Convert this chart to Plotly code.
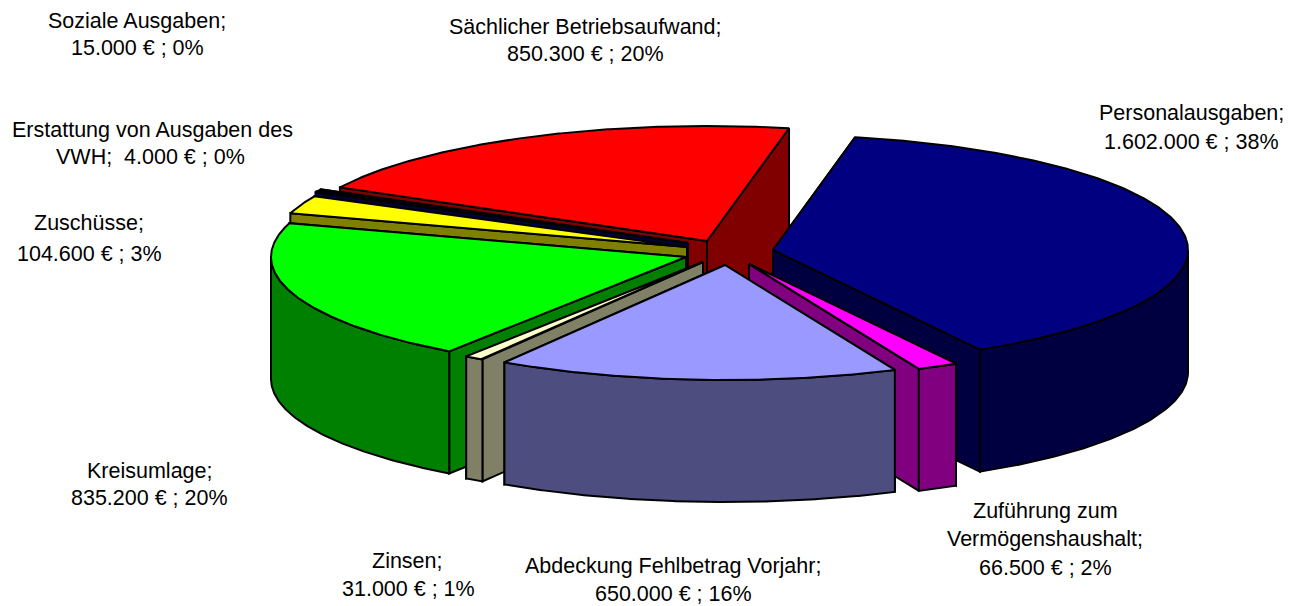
import numpy as np
import plotly.graph_objects as go

# ---- data ----
categories = ["Personalausgaben", "Zuführung zum Vermögenshaushalt", "Abdeckung Fehlbetrag Vorjahr",
              "Zinsen", "Kreisumlage", "Zuschüsse", "Erstattung von Ausgaben des VWH",
              "Soziale Ausgaben", "Sächlicher Betriebsaufwand"]
values = [1602000, 66500, 650000, 31000, 835200, 104600, 4000, 15000, 850300]

# ---- styles ----
top_colors = ["#000080", "#FF00FF", "#9999FF", "#FFFFCC", "#00FF00", "#FFFF00", "#000080", "#000000", "#FF0000"]
side_colors = ["#000040", "#800080", "#4D4D80", "#808066", "#008000", "#808000", "#000040", "#000000", "#800000"]
# exploded position of each slice's tip
tip_x = [773, 749, 725, 703, 686, 687, 688, 688, 707]
tip_y = [250, 264, 265, 262, 257, 247, 243, 243, 241]
paint_order = [8, 7, 6, 5, 4, 0, 3, 1, 2]
RX, RY, DEPTH = 415, 115, 122
START_ANGLE = 78.6
PAGE_MARGIN = 8

label_lines = [
    ("Sächlicher Betriebsaufwand;", 585, 27), ("850.300 € ; 20%", 585, 54),
    ("Personalausgaben;", 1191, 113), ("1.602.000 € ; 38%", 1191, 142),
    ("Soziale Ausgaben;", 137, 21), ("15.000 € ; 0%", 137, 48),
    ("Erstattung von Ausgaben des", 152, 130), ("VWH;  4.000 € ; 0%", 150, 157),
    ("Zuschüsse;", 89, 223), ("104.600 € ; 3%", 89, 254),
    ("Kreisumlage;", 149, 471), ("835.200 € ; 20%", 149, 498),
    ("Zinsen;", 407, 561), ("31.000 € ; 1%", 408, 589),
    ("Abdeckung Fehlbetrag Vorjahr;", 673, 566), ("650.000 € ; 16%", 673, 594),
    ("Zuführung zum", 1045, 511), ("Vermögenshaushalt;", 1045, 539), ("66.500 € ; 2%", 1045, 568),
]

fractions = np.array(values) / sum(values)
ends = START_ANGLE - np.cumsum(fractions) * 360
starts = np.concatenate([[START_ANGLE], ends[:-1]])


def poly(fig, xs, ys, color, name):
    fig.add_trace(go.Scatter(x=list(xs) + [xs[0]], y=list(ys) + [ys[0]], mode="lines", fill="toself",
                             fillcolor=color, line=dict(color="black", width=2),
                             hoverinfo="skip", showlegend=False, name=name))


fig = go.Figure()
for i in paint_order:
    ax, ay = tip_x[i], tip_y[i]
    a0, a1 = starts[i], ends[i]
    def px(a): return ax + RX * np.cos(np.radians(a))
    def py(a): return ay - RY * np.sin(np.radians(a))
    # radial walls, the one further back first
    for a in sorted((a0, a1), key=py):
        poly(fig, [ax, px(a), px(a), ax], [ay, py(a), py(a) + DEPTH, ay + DEPTH], side_colors[i], categories[i])
    # outer wall: the front half only
    ang = np.linspace(a0, a1, 240)
    front = ang[np.sin(np.radians(ang)) <= 0]
    if len(front) > 1:
        xs = px(front)
        ys = py(front)
        poly(fig, np.concatenate([xs, xs[::-1]]), np.concatenate([ys, ys[::-1] + DEPTH]),
             side_colors[i], categories[i])
    # top face
    ang = np.linspace(a0, a1, 240)
    poly(fig, np.concatenate([[ax], px(ang)]), np.concatenate([[ay], py(ang)]), top_colors[i], categories[i])

for text, x, y in label_lines:
    fig.add_annotation(x=x, y=y, text=text, showarrow=False, xanchor="center", yanchor="middle",
                       font=dict(family="Liberation Sans", size=21.5, color="black"))

fig.update_layout(width=1294 - PAGE_MARGIN, height=606 - PAGE_MARGIN, margin=dict(l=0, r=0, t=0, b=0),
                  paper_bgcolor="white", plot_bgcolor="white", showlegend=False,
                  xaxis=dict(range=[PAGE_MARGIN, 1294], visible=False, fixedrange=True),
                  yaxis=dict(range=[606, PAGE_MARGIN], visible=False, fixedrange=True))
fig.write_html("out.html", config=dict(displayModeBar=False))
